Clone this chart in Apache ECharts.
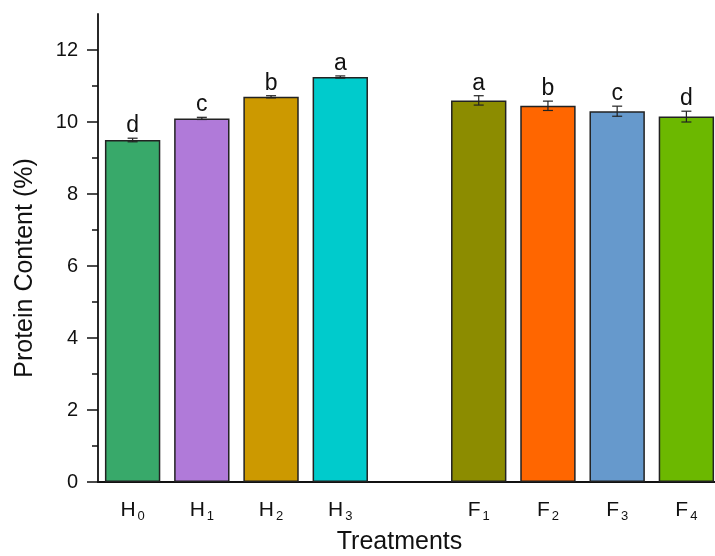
<!DOCTYPE html>
<html><head><meta charset="utf-8">
<script src="https://cdn.jsdelivr.net/npm/echarts@6/dist/echarts.min.js"></script>
<style>html,body{margin:0;padding:0;background:#fff}#c{width:715px;height:556px}</style>
</head><body><div id="c"></div>
<script>
const categories = ['H0','H1','H2','H3','','F1','F2','F3','F4'];
const values = [9.5, 10.1, 10.7, 11.25, null, 10.6, 10.45, 10.3, 10.15];
const errors = [0.05, 0.03, 0.03, 0.03, null, 0.13, 0.13, 0.14, 0.15];
const letters = ['d','c','b','a','','a','b','c','d'];
const colors = ['#38a96a','#b07ad9','#cc9900','#00cbcc','#fff','#8c8c00','#ff6600','#6699cc','#6cb800'];
const yMajorTicks = [0, 2, 4, 6, 8, 10, 12];
const yMinorTicks = [1, 3, 5, 7, 9, 11];
const yRange = {min: 0, max: 13};

const FONT = 'Arial, "Liberation Sans", sans-serif';
const chart = echarts.init(document.getElementById('c'));
const barData = values.map((v, i) => v == null ? '-' : {value: v, itemStyle: {color: colors[i]}});
const errData = values.map((v, i) => v == null ? null : [i, v, errors[i], letters[i]]).filter(d => d);

chart.setOption({
  animation: false,
  backgroundColor: '#fff',
  grid: {left: 98, right: -6, top: 14, bottom: 74, outerBoundsMode: 'none', containLabel: false},
  xAxis: [{
    type: 'category', data: categories,
    axisLine: {lineStyle: {color: '#111', width: 1.8}},
    axisTick: {alignWithLabel: true, interval: 0, length: 8, lineStyle: {color: '#111', width: 1.5}},
    axisLabel: {
      interval: 0, hideOverlap: false,
      margin: 16, color: '#111', fontSize: 21, fontFamily: FONT,
      formatter: v => v ? v[0] + '{s|' + v.slice(1) + '}' : '',
      rich: {s: {fontSize: 13, fontFamily: FONT, color: '#111', padding: [12, 0, 0, 2]}}
    },
    name: 'Treatments', nameLocation: 'middle', nameGap: 48,
    nameTextStyle: {fontSize: 25, color: '#111', fontFamily: FONT, padding: [0, 20, 0, 0]}
  }, {
    type: 'category', data: categories, position: 'bottom',
    axisLine: {show: false},
    axisTick: {interval: 0, length: 4, lineStyle: {color: '#111', width: 1.5}},
    axisLabel: {show: false}
  }],
  yAxis: [{
    type: 'value', min: yRange.min, max: yRange.max,
    splitLine: {show: false},
    axisLine: {show: true, lineStyle: {color: '#111', width: 1.8}},
    axisTick: {show: true, length: 11, customValues: yMajorTicks, lineStyle: {color: '#111', width: 1.5}},
    axisLabel: {margin: 20, color: '#111', fontSize: 20, fontFamily: FONT, customValues: yMajorTicks},
    name: 'Protein Content (%)', nameLocation: 'middle', nameGap: 60,
    nameTextStyle: {fontSize: 25, color: '#111', fontFamily: FONT, padding: [0, 40, 0, 0]}
  }, {
    type: 'value', min: yRange.min, max: yRange.max, position: 'left',
    splitLine: {show: false},
    axisLine: {show: false},
    axisTick: {show: true, length: 6, customValues: yMinorTicks, lineStyle: {color: '#111', width: 1.5}},
    axisLabel: {show: false}
  }],
  series: [{
    type: 'bar', data: barData, barWidth: '80%',
    itemStyle: {borderColor: '#222', borderWidth: 1.5}
  }, {
    type: 'custom', data: errData, z: 10,
    renderItem: function (params, api) {
      const x = api.value(0), v = api.value(1), e = api.value(2);
      const top = api.coord([x, v + e]);
      const bot = api.coord([x, v - e]);
      const hw = 5;
      const st = {stroke: '#222', lineWidth: 1.2};
      return {type: 'group', children: [
        {type: 'line', shape: {x1: top[0], y1: top[1], x2: bot[0], y2: bot[1]}, style: st},
        {type: 'line', shape: {x1: top[0]-hw, y1: top[1], x2: top[0]+hw, y2: top[1]}, style: st},
        {type: 'line', shape: {x1: bot[0]-hw, y1: bot[1], x2: bot[0]+hw, y2: bot[1]}, style: st},
        {type: 'text', style: {text: api.value(3), x: top[0], y: top[1] - 1, align: 'center', verticalAlign: 'bottom',
          fontSize: 23, fontFamily: FONT, fill: '#111'}}
      ]};
    }
  }]
});
</script></body></html>
